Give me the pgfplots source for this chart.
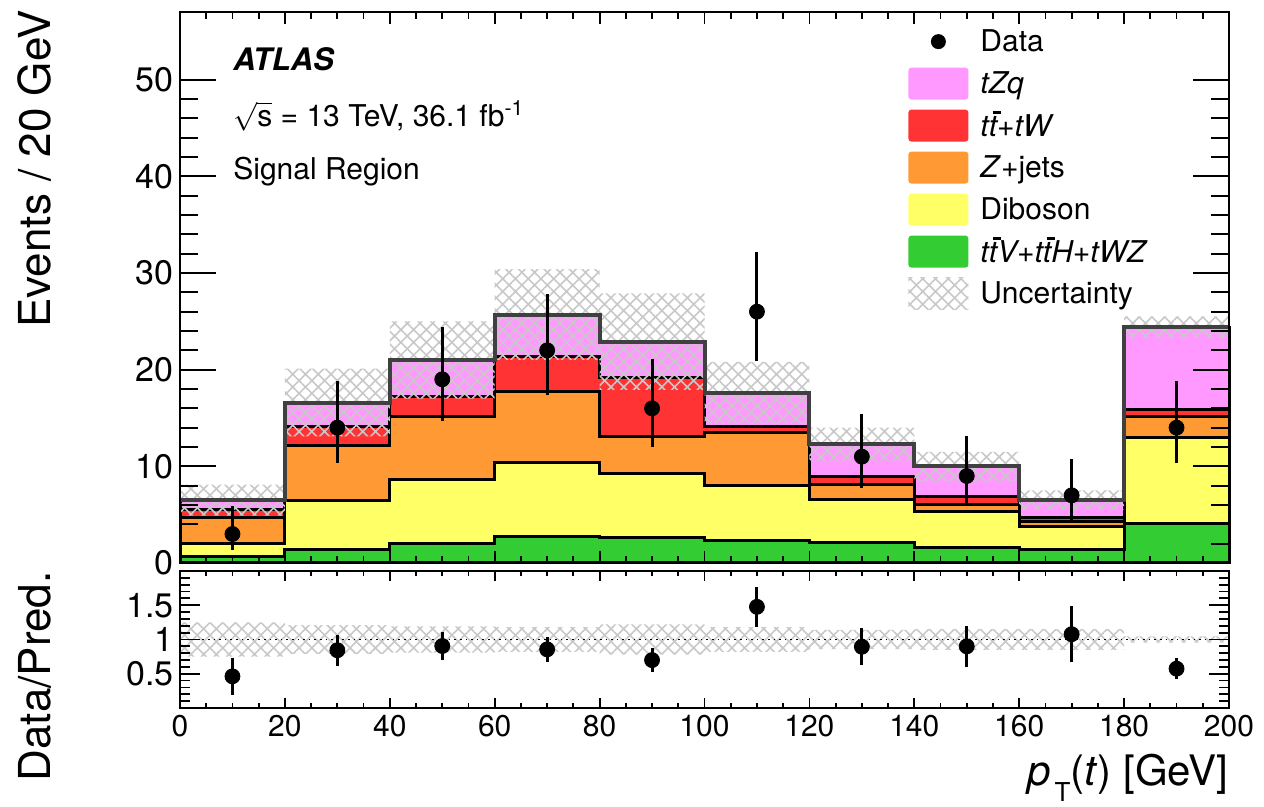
\documentclass[border=0pt]{standalone}
\usepackage{pgfplots}
\pgfplotsset{compat=1.18}
\usepackage{pgfplotstable}
\usepgfplotslibrary{fillbetween}
\usetikzlibrary{patterns,patterns.meta}
\usepackage{fontspec}
\setmainfont{TeX Gyre Heros}

\definecolor{cpink}{RGB}{255,153,255}
\definecolor{cred}{RGB}{255,51,51}
\definecolor{corange}{RGB}{255,153,51}
\definecolor{cyellow}{RGB}{255,255,102}
\definecolor{cgreen}{RGB}{51,204,51}
\definecolor{chatch}{RGB}{200,200,200}
\definecolor{cline}{RGB}{64,64,64}

\newcommand{\tb}{\rlap{\hspace{0.14em}\rule[0.76em]{0.26em}{0.09em}}t}

% cumulative stack heights per bin (low edge); last row repeats the last bin
\pgfplotstableread{
x   green yellow orange red  total lo   hi
0   0.65  2.0    4.7    5.5  6.5   4.9  8.1
20  1.4   6.5    12.2   14.1 16.6  13.1 20.1
40  2.0   8.6    15.15  17.2 21.0  17.0 25.0
60  2.7   10.4   17.7   21.4 25.7  21.0 30.4
80  2.65  9.3    13.1   19.2 22.9  17.9 27.9
100 2.3   8.0    13.5   14.1 17.6  14.4 20.8
120 2.1   6.6    8.15   8.9  12.3  10.6 14.0
140 1.6   5.3    6.0    6.9  10.0  8.5  11.5
160 1.35  3.8    4.3    4.7  6.5   5.5  7.5
180 4.1   13.0   15.15  15.9 24.4  23.3 25.5
200 4.1   13.0   15.15  15.9 24.4  23.3 25.5
}\stack

\pgfplotstableread{
x   n  dn   up
10  3  1.63 2.92
30  14 3.70 4.83
50  19 4.32 5.44
70  22 4.66 5.78
90  16 3.96 5.10
110 26 5.07 6.17
130 11 3.27 4.42
150 9  2.94 4.11
170 7  2.58 3.77
190 14 3.70 4.83
}\data

\pgfplotstableread{
x   lo    hi
0   0.75  1.25
20  0.79  1.21
40  0.81  1.19
60  0.82  1.18
80  0.78  1.22
100 0.82  1.18
120 0.86  1.14
140 0.85  1.15
160 0.85  1.15
180 0.955 1.045
200 0.955 1.045
}\rband

\pgfplotstableread{
x   r     e
10  0.462 0.266
30  0.843 0.225
50  0.905 0.208
70  0.856 0.183
90  0.699 0.175
110 1.477 0.290
130 0.894 0.270
150 0.900 0.300
170 1.077 0.407
190 0.574 0.153
}\ratio

\begin{document}
\begin{tikzpicture}
\pgfplotsset{
  atlas/.style={
    scale only axis, width=524.5pt,
    xmin=0, xmax=200,
    set layers=axis on top,
    axis line style={line width=1pt},
    every tick/.style={black, line width=0.9pt},
    /pgf/number format/assume math mode=true,
    xtick={0,20,...,200}, minor x tick num=3,
  },
  hatchband/.style={pattern={Hatch[angle=45,distance=4.5pt,line width=0.8pt]}, pattern color=chatch},
  stk/.style={const plot, draw=black, line width=1.5pt, forget plot, on layer=axis background},
}
% ---------------- main panel
\begin{axis}[atlas,
  at={(0,72.5pt)}, anchor=south west, height=275.5pt,
  ymin=0, ymax=57,
  ytick={0,10,...,50}, minor y tick num=4,
  xticklabels={},
  yticklabel style={font=\fontsize{17}{18}\selectfont, inner sep=3pt},
  xtick style={/pgfplots/major tick length=6pt,/pgfplots/minor tick length=3.5pt},
  ytick style={/pgfplots/major tick length=18pt,/pgfplots/minor tick length=9pt},
  ylabel={Events / 20 GeV},
  ylabel style={font=\fontsize{22}{26}\selectfont, at={([xshift=-64pt,yshift=1pt]rel axis cs:0,1)}, anchor=south east, inner sep=0pt},
  legend style={at={(0.694,0.976)}, anchor=north west, draw=none, fill=none,
    font=\fontsize{15}{18}\selectfont, row sep=5pt, column sep=6pt, inner sep=0pt,
    nodes={inner sep=0pt}},
  legend cell align=left,
]
\addplot[stk, fill=cpink] table[x=x,y=total]{\stack} \closedcycle;
\addplot[stk, fill=cred] table[x=x,y=red]{\stack} \closedcycle;
\addplot[stk, fill=corange] table[x=x,y=orange]{\stack} \closedcycle;
\addplot[stk, fill=cyellow] table[x=x,y=yellow]{\stack} \closedcycle;
\addplot[stk, fill=cgreen] table[x=x,y=green]{\stack} \closedcycle;
\addplot[name path=bhi, const plot, draw=none, forget plot] table[x=x,y=hi]{\stack};
\addplot[name path=blo, const plot, draw=none, forget plot] table[x=x,y=lo]{\stack};
\addplot[hatchband, draw=none, forget plot] fill between[of=bhi and blo];
\addplot[const plot, draw=cline, line width=2pt, forget plot] table[x=x,y=total]{\stack};
\addplot[only marks, mark=*, mark size=3.75pt, black, forget plot,
  error bars/.cd, y dir=both, y explicit, error mark=none,
  error bar style={line width=1.5pt, solid}]
  table[x=x, y=n, y error plus=up, y error minus=dn]{\data};

\addlegendimage{legend image code/.code={\path[draw=none] (0pt,-8pt) rectangle (30pt,8pt); \fill[black, draw=none] (15pt,0pt) circle (3.75pt);}}
\addlegendentry{Data}
\addlegendimage{legend image code/.code={\fill[cpink, draw=none, rounded corners=1.5pt] (0pt,-8pt) rectangle (30pt,8pt);}}
\addlegendentry{\textit{tZq}}
\addlegendimage{legend image code/.code={\fill[cred, draw=none, rounded corners=1.5pt] (0pt,-8pt) rectangle (30pt,8pt);}}
\addlegendentry{\textit{t\tb+tW}}
\addlegendimage{legend image code/.code={\fill[corange, draw=none, rounded corners=1.5pt] (0pt,-8pt) rectangle (30pt,8pt);}}
\addlegendentry{\textit{Z}+jets}
\addlegendimage{legend image code/.code={\fill[cyellow, draw=none, rounded corners=1.5pt] (0pt,-8pt) rectangle (30pt,8pt);}}
\addlegendentry{Diboson}
\addlegendimage{legend image code/.code={\fill[cgreen, draw=none, rounded corners=1.5pt] (0pt,-8pt) rectangle (30pt,8pt);}}
\addlegendentry{\textit{t\tb V+t\tb H+tWZ}}
\addlegendimage{legend image code/.code={\path[draw=none, pattern={Hatch[angle=45,distance=4.5pt,line width=0.8pt]}, pattern color=chatch] (0pt,-8pt) rectangle (30pt,8pt);}}
\addlegendentry{Uncertainty}

\node[anchor=west, inner sep=0pt, font=\fontsize{15.5}{18}\selectfont\bfseries\itshape] at (rel axis cs:0.0505,0.915) {ATLAS};
\node[anchor=west, inner sep=0pt, font=\fontsize{15}{18}\selectfont] at (rel axis cs:0.0505,0.811) {$\sqrt{\mbox{s}}$ = 13 TeV, 36.1 fb\textsuperscript{-1}};
\node[anchor=west, inner sep=0pt, font=\fontsize{15}{18}\selectfont] at (rel axis cs:0.0505,0.711) {Signal Region};
\end{axis}
% ---------------- ratio panel
\begin{axis}[atlas,
  at={(0,0)}, anchor=south west, height=68.5pt,
  ymin=0, ymax=2, ytick={0.5,1,1.5}, minor ytick={0.1,0.2,...,1.95},
  xticklabel style={font=\fontsize{15}{18}\selectfont},
  yticklabel style={font=\fontsize{17}{18}\selectfont, inner sep=3pt},
  xtick style={/pgfplots/major tick length=5pt,/pgfplots/minor tick length=2.5pt},
  ytick style={/pgfplots/major tick length=10pt,/pgfplots/minor tick length=5pt},
  xlabel={\textit{p}\raisebox{-0.36em}{\fontsize{13}{13}\selectfont\,T}(\textit{t}) [GeV]},
  xlabel style={font=\fontsize{21}{24}\selectfont, at={([yshift=-39pt]rel axis cs:1,0)}, anchor=base east, inner sep=0pt},
  ylabel={Data/Pred.},
  ylabel style={font=\fontsize{22}{26}\selectfont, at={([xshift=-64pt]rel axis cs:0,1)}, anchor=south east, inner sep=0pt},
]
\addplot[name path=rhi, const plot, draw=none, forget plot] table[x=x,y=hi]{\rband};
\addplot[name path=rlo, const plot, draw=none, forget plot] table[x=x,y=lo]{\rband};
\addplot[hatchband, draw=none, forget plot] fill between[of=rhi and rlo];
\addplot[black, dotted, line width=0.8pt, forget plot] coordinates {(0,1) (200,1)};
\addplot[only marks, mark=*, mark size=3.75pt, black, forget plot,
  error bars/.cd, y dir=both, y explicit, error mark=none,
  error bar style={line width=1.5pt, solid}]
  table[x=x, y=r, y error=e]{\ratio};
\end{axis}
\pgfresetboundingbox
\path[use as bounding box] (-90pt,-49.5pt) rectangle (542pt,354pt);
\end{tikzpicture}
\end{document}
